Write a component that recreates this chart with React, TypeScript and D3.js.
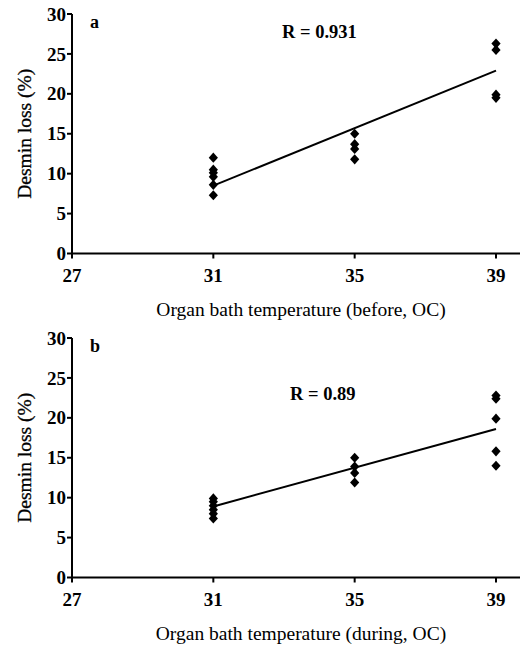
import React from "react";
import * as d3 from "d3";

const width = 520;
const height = 646;

const xTicks = [27, 31, 35, 39];
const yTicks = [0, 5, 10, 15, 20, 25, 30];

// panel a: before
const beforeTemp = [31, 31, 31, 31, 31, 31, 35, 35, 35, 35, 39, 39, 39, 39];
const beforeLoss = [12.0, 10.5, 10.1, 9.6, 8.6, 7.3, 15.0, 13.7, 13.1, 11.8, 26.3, 25.5, 19.9, 19.5];
const beforeFitX = [31, 39];
const beforeFitY = [8.5, 22.9];

// panel b: during
const duringTemp = [31, 31, 31, 31, 31, 31, 35, 35, 35, 35, 39, 39, 39, 39, 39];
const duringLoss = [9.9, 9.5, 9.0, 8.5, 8.0, 7.4, 15.0, 13.9, 13.1, 11.9, 22.8, 22.4, 19.9, 15.8, 14.0];
const duringFitX = [31, 39];
const duringFitY = [8.9, 18.6];

const panels = [
  { letter: "a", r: "R = 0.931", title: "Organ bath temperature (before, OC)", temp: beforeTemp, loss: beforeLoss, fitX: beforeFitX, fitY: beforeFitY, top: 14, rPos: [282, 38] },
  { letter: "b", r: "R = 0.89", title: "Organ bath temperature (during, OC)", temp: duringTemp, loss: duringLoss, fitX: duringFitX, fitY: duringFitY, top: 338, rPos: [290, 400] },
];

const font = "'Liberation Serif', 'Times New Roman', serif";
// slightly taller than wide, like the original markers
const diamond = d3.symbol().type(d3.symbolDiamond2).size(60);

const x = d3.scaleLinear().domain([27, 39]).range([72, 496]);

const Panel = ({ p }) => {
  const y = d3.scaleLinear().domain([0, 30]).range([p.top + 239.5, p.top]);
  const y0 = y(0);
  const line = d3.line().x((d) => x(d[0])).y((d) => y(d[1]));
  return (
    <g>
      {/* axes */}
      <line x1={x(27)} x2={x(27)} y1={y(30)} y2={y0 + 1} stroke="#000" strokeWidth={2} />
      <line x1={x(27) - 1} x2={520} y1={y0} y2={y0} stroke="#000" strokeWidth={2} />
      {yTicks.map((t) => (
        <g key={"y" + t}>
          <line x1={x(27) - 5} x2={x(27)} y1={y(t)} y2={y(t)} stroke="#000" strokeWidth={2} />
          <text x={x(27) - 6} y={y(t)} dy="0.35em" textAnchor="end" fontSize={19} fontWeight="bold" fontFamily={font}>
            {t}
          </text>
        </g>
      ))}
      {xTicks.map((t) => (
        <g key={"x" + t}>
          <line x1={x(t)} x2={x(t)} y1={y0} y2={y0 + 5} stroke="#000" strokeWidth={2} />
          <text x={x(t)} y={y0 + 28} textAnchor="middle" fontSize={19} fontWeight="bold" fontFamily={font}>
            {t}
          </text>
        </g>
      ))}
      <text x={301} y={y0 + 62} textAnchor="middle" fontSize={19.5} fontFamily={font}>
        {p.title}
      </text>
      <text transform={`translate(31,${(y(30) + y0) / 2}) rotate(-90)`} textAnchor="middle" fontSize={19.5} fontFamily={font} stroke="#000" strokeWidth={0.3}>
        Desmin loss (%)
      </text>
      <text x={90} y={p.top + 14} fontSize={18} fontWeight="bold" fontFamily={font}>
        {p.letter}
      </text>
      <text x={p.rPos[0]} y={p.rPos[1]} fontSize={18.5} fontWeight="bold" fontFamily={font}>
        {p.r}
      </text>
      {/* fit line */}
      <path d={line(p.fitX.map((v, i) => [v, p.fitY[i]]))} fill="none" stroke="#000" strokeWidth={2} />
      {/* points */}
      {p.temp.map((t, i) => (
        <path key={i} d={diamond()} transform={`translate(${x(t)},${y(p.loss[i])}) scale(0.95,1.05)`} fill="#000" />
      ))}
    </g>
  );
};

export default function App() {
  return (
    <svg width={width} height={height} style={{ position: "absolute", left: 0, top: 0, background: "#fff" }}>
      {panels.map((p) => (
        <Panel key={p.letter} p={p} />
      ))}
    </svg>
  );
}
